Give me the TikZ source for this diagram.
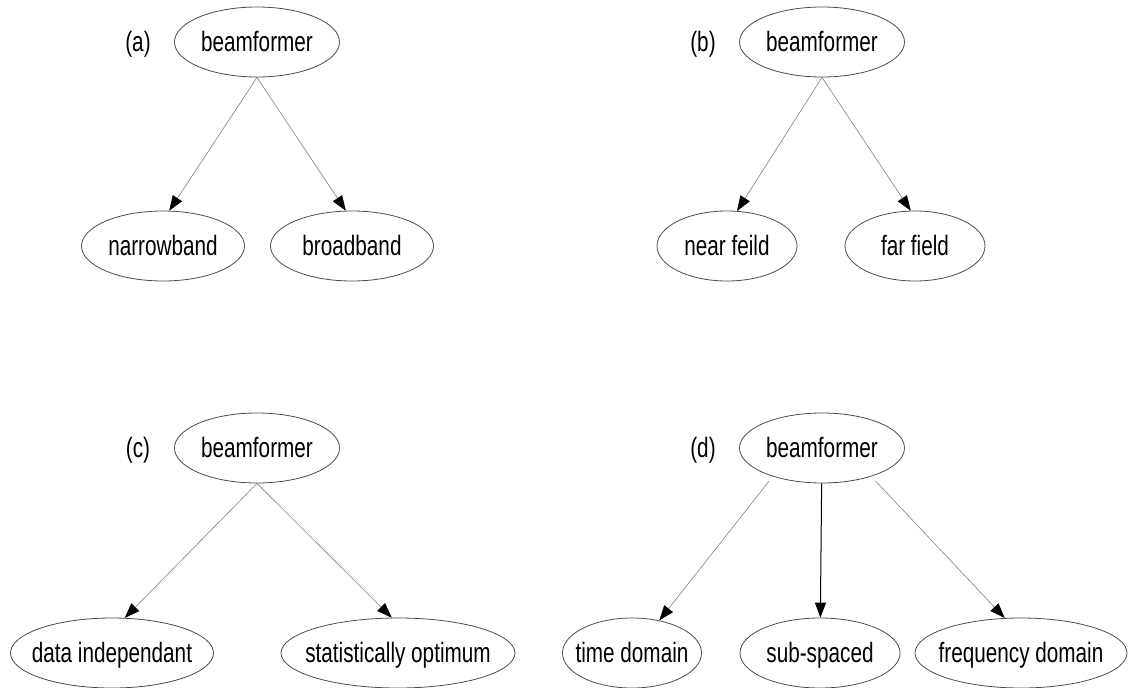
\documentclass[tikz,border=0pt]{standalone}
\usepackage{fontspec}
\setmainfont[FakeStretch=0.74]{Liberation Sans}
\usetikzlibrary{shapes.geometric,arrows.meta}

\begin{document}
\begin{tikzpicture}[x=1pt,y=-1pt,font=\fontsize{28}{30}\selectfont,
  text height=23pt, text depth=4pt,
  >={Triangle[length=15pt,width=11pt,color=black]}]
 \useasboundingbox (0,0) rectangle (1128,688);
 \node (la) at (138,42) {(a)};
 \node (lb) at (703,42) {(b)};
 \node (lc) at (138,448) {(c)};
 \node (ld) at (703,448) {(d)};
          \begin{scope}[every node/.style={ellipse, draw=black!70, line width=0.8pt, minimum height=70pt, inner xsep=-10pt}]
          \node[minimum width=165pt] (a0) at (257,42) {beamformer};
          \node[minimum width=163pt] (a1) at (163,246) {narrowband};
          \node[minimum width=163pt] (a2) at (352,246) {broadband};
          \node[minimum width=165pt] (b0) at (822,42) {beamformer};
          \node[minimum width=140pt] (b1) at (727,246) {near feild};
          \node[minimum width=140pt] (b2) at (915,246) {far field};
          \node[minimum width=165pt] (c0) at (257,448) {beamformer};
          \node[minimum width=203pt] (c1) at (112,653) {data independant};
          \node[minimum width=234pt] (c2) at (398,653) {statistically optimum};
          \node[minimum width=165pt] (d0) at (822,448) {beamformer};
          \node[minimum width=139pt] (d1) at (632,653) {time domain};
          \node[minimum width=160pt] (d2) at (820,653) {sub-spaced};
          \node[minimum width=212pt] (d3) at (1021,653) {frequency domain};
          \end{scope}
          \begin{scope}[gray, line width=0.6pt]
          \draw[->] (a0.south)--(a1.80);
          \draw[->] (a0.south)--(a2.100);
          \draw[->] (b0.south)--(b1.74);
          \draw[->] (b0.south)--(b2.97);
          \draw[->] (c0.south)--(c1.70);
          \draw[->] (c0.south)--(c2.100);
          \draw[->, shorten <=6pt] (d0.-150)--(d1.50);
          \draw[->, shorten <=6pt] (d0.-30)--(d3.115);
          \end{scope}
          \draw[->, line width=1pt] (d0)--(d2);
          \end{tikzpicture}
\end{document}
